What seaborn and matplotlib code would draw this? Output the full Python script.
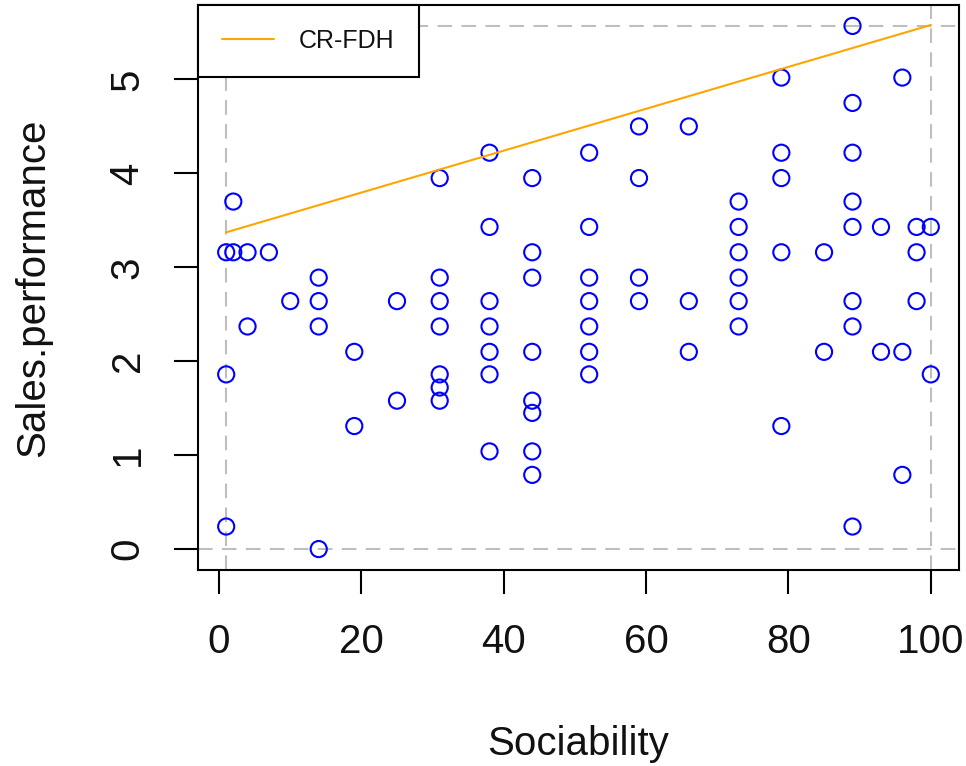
import matplotlib
matplotlib.use("Agg")
import matplotlib.pyplot as plt
import seaborn as sns
import numpy as np
import pandas as pd

# ---- data ----
sociability = [1, 1, 1,
               2, 2,
               4, 4,
               7,
               10,
               14, 14, 14, 14,
               19, 19,
               25, 25,
               31, 31, 31, 31, 31, 31, 31,
               38, 38, 38, 38, 38, 38, 38,
               44, 44, 44, 44, 44, 44, 44, 44,
               52, 52, 52, 52, 52, 52, 52,
               59, 59, 59, 59,
               66, 66, 66,
               73, 73, 73, 73, 73, 73,
               79, 79, 79, 79, 79,
               85, 85,
               89, 89, 89, 89, 89, 89, 89, 89,
               93, 93,
               96, 96, 96,
               98, 98, 98,
               100, 100]
sales_performance = [3.16, 1.86, 0.24,
                     3.70, 3.16,
                     3.16, 2.37,
                     3.16,
                     2.64,
                     2.89, 2.64, 2.37, 0.00,
                     2.10, 1.31,
                     2.64, 1.58,
                     3.95, 2.89, 2.64, 2.37, 1.86, 1.72, 1.58,
                     4.22, 3.43, 2.64, 2.37, 2.10, 1.86, 1.04,
                     3.95, 3.16, 2.89, 2.10, 1.58, 1.45, 1.04, 0.79,
                     4.22, 3.43, 2.89, 2.64, 2.37, 2.10, 1.86,
                     4.50, 3.95, 2.89, 2.64,
                     4.50, 2.64, 2.10,
                     3.70, 3.43, 3.16, 2.89, 2.64, 2.37,
                     5.02, 4.22, 3.95, 3.16, 1.31,
                     3.16, 2.10,
                     5.57, 4.75, 4.22, 3.70, 3.43, 2.64, 2.37, 0.24,
                     3.43, 2.10,
                     5.02, 2.10, 0.79,
                     3.43, 3.16, 2.64,
                     3.43, 1.86]
crfdh_intercept = 3.35
crfdh_slope = 0.0223
x_ticks = [0, 20, 40, 60, 80, 100]
y_ticks = [0, 1, 2, 3, 4, 5]
x_label = "Sociability"
y_label = "Sales.performance"
legend_label = "CR-FDH"

df = pd.DataFrame({"Sociability": sociability, "Sales.performance": sales_performance})

sns.set_theme(style="white")
plt.rcParams["font.family"] = ["Liberation Sans", "DejaVu Sans"]

fig = plt.figure(figsize=(9.66, 7.66), dpi=100)
ax = fig.add_axes([198 / 966, (766 - 570) / 766, (959 - 198) / 966, (570 - 5) / 766])

xmin, xmax = min(sociability), max(sociability)
ymin, ymax = min(sales_performance), max(sales_performance)

dash = (0, (7, 4.5))
ax.axvline(xmin, color="#BEBEBE", lw=1.5, ls=dash, zorder=1)
ax.axvline(xmax, color="#BEBEBE", lw=1.5, ls=dash, zorder=1)
ax.axhline(ymin, color="#BEBEBE", lw=1.5, ls=dash, zorder=1)
ax.axhline(ymax, color="#BEBEBE", lw=1.5, ls=dash, zorder=1)

sns.scatterplot(data=df, x="Sociability", y="Sales.performance", ax=ax,
                marker="o", s=135, facecolor="none", edgecolor="blue",
                linewidth=1.5, zorder=3)

line_x = np.array([xmin, xmax], dtype=float)
line_df = pd.DataFrame({"x": line_x, "y": crfdh_intercept + crfdh_slope * line_x})
sns.lineplot(data=line_df, x="x", y="y", ax=ax, color="orange", lw=1.5,
             label=legend_label, zorder=4)

xr = xmax - xmin
yr = ymax - ymin
ax.set_xlim(xmin - 0.04 * xr, xmax + 0.04 * xr)
ax.set_ylim(ymin - 0.04 * yr, ymax + 0.04 * yr)
ax.set_xticks(x_ticks)
ax.set_yticks(y_ticks)
ax.set_xticklabels([str(v) for v in x_ticks])
ax.set_yticklabels([str(v) for v in y_ticks], rotation=90, va="center")

for sp in ax.spines.values():
    sp.set_visible(True)
    sp.set_color("black")
    sp.set_linewidth(1.5)

ax.tick_params(axis="both", which="major", direction="out", length=17, width=1.5,
               color="black", labelsize=29, labelcolor="#111111",
               bottom=True, left=True, top=False, right=False)
ax.tick_params(axis="x", pad=21)
ax.tick_params(axis="y", pad=20)

ax.set_xlabel(x_label, fontsize=29, color="#111111")
ax.set_ylabel(y_label, fontsize=29, color="#111111")
ax.xaxis.label.set_va("baseline")
ax.xaxis.set_label_coords(0.5, (570 - 755) / 565)
ax.yaxis.set_label_coords((52 - 198) / 761, 0.5)

leg = ax.legend(loc="upper left", bbox_to_anchor=(0, 1), borderaxespad=0,
                fontsize=18, frameon=True, fancybox=False, framealpha=1,
                handlelength=2.1, handletextpad=1.0, borderpad=0.95)
leg.get_frame().set_edgecolor("black")
leg.get_frame().set_linewidth(1.5)
for t in leg.get_texts():
    t.set_color("#111111")

fig.savefig("out.png", dpi=100)
